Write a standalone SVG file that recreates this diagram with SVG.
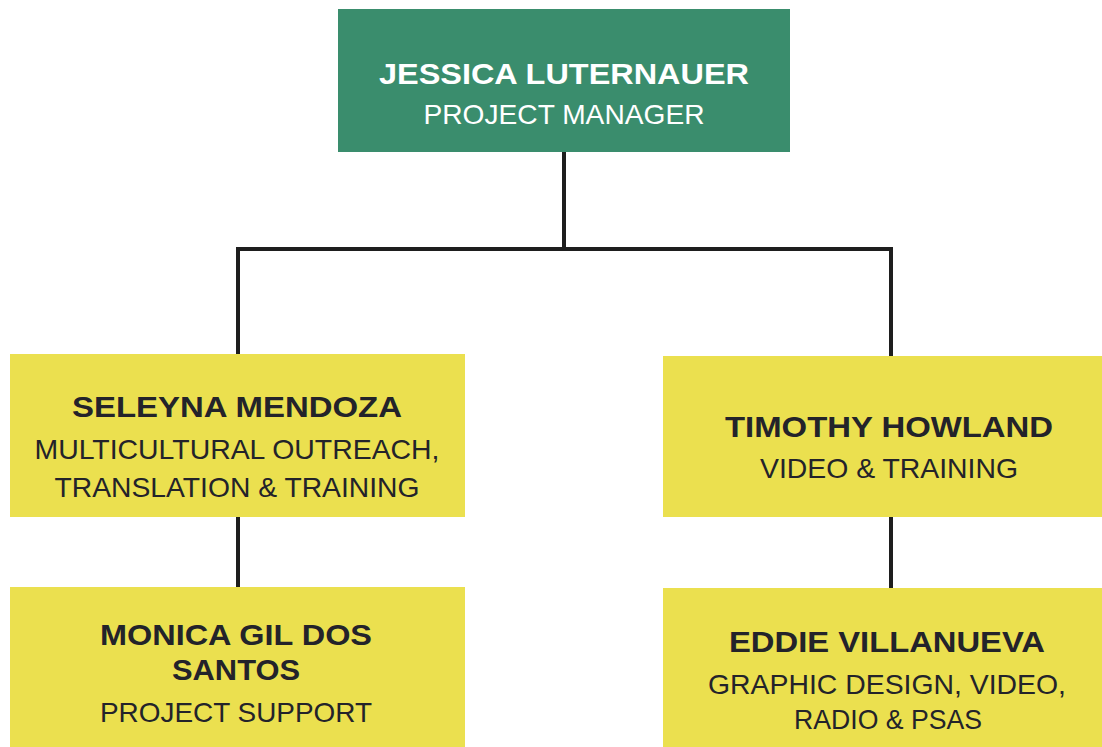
<svg xmlns="http://www.w3.org/2000/svg" width="1102" height="747" viewBox="0 0 1102 747">
<style>
.green{fill:#3a8d6d}
.yellow{fill:#ebe04f}
.name{font-family:"Liberation Sans",Arial,sans-serif;font-weight:bold;font-size:30px;text-anchor:middle;fill:#23232a}
.role{font-family:"Liberation Sans",Arial,sans-serif;font-size:28px;text-anchor:middle;fill:#23232a}
.w{fill:#ffffff}
.conn{stroke:#1e1e1e;stroke-width:4;fill:none}
</style>
<rect width="1102" height="747" fill="#ffffff"/>
<g id="connectors">
<path class="conn" d="M564 152 V249 M238 249 H891 M238 247 V354 M891 247 V356 M238 517 V587 M891 517 V588"/>
</g>
<g id="jessica">
<rect class="green" x="338" y="9" width="452" height="143"/>
<text class="name w" x="564" y="84" textLength="370" lengthAdjust="spacingAndGlyphs">JESSICA LUTERNAUER</text>
<text class="role w" x="564" y="124" textLength="281" lengthAdjust="spacingAndGlyphs">PROJECT MANAGER</text>
</g>
<g id="seleyna">
<rect class="yellow" x="10" y="354" width="455" height="163"/>
<text class="name" x="237" y="417" textLength="330" lengthAdjust="spacingAndGlyphs">SELEYNA MENDOZA</text>
<text class="role" x="237" y="459" textLength="405" lengthAdjust="spacingAndGlyphs">MULTICULTURAL OUTREACH,</text>
<text class="role" x="237" y="497" textLength="365" lengthAdjust="spacingAndGlyphs">TRANSLATION &amp; TRAINING</text>
</g>
<g id="timothy">
<rect class="yellow" x="663" y="356" width="439" height="161"/>
<text class="name" x="889" y="437" textLength="328" lengthAdjust="spacingAndGlyphs">TIMOTHY HOWLAND</text>
<text class="role" x="889" y="478" textLength="258" lengthAdjust="spacingAndGlyphs">VIDEO &amp; TRAINING</text>
</g>
<g id="monica">
<rect class="yellow" x="10" y="587" width="455" height="160"/>
<text class="name" x="236" y="645" textLength="272" lengthAdjust="spacingAndGlyphs">MONICA GIL DOS</text>
<text class="name" x="236" y="680" textLength="128" lengthAdjust="spacingAndGlyphs">SANTOS</text>
<text class="role" x="236" y="722" textLength="272" lengthAdjust="spacingAndGlyphs">PROJECT SUPPORT</text>
</g>
<g id="eddie">
<rect class="yellow" x="663" y="588" width="439" height="159"/>
<text class="name" x="887" y="652" textLength="316" lengthAdjust="spacingAndGlyphs">EDDIE VILLANUEVA</text>
<text class="role" x="887" y="694" textLength="358" lengthAdjust="spacingAndGlyphs">GRAPHIC DESIGN, VIDEO,</text>
<text class="role" x="888" y="729" textLength="188" lengthAdjust="spacingAndGlyphs">RADIO &amp; PSAS</text>
</g>
</svg>
